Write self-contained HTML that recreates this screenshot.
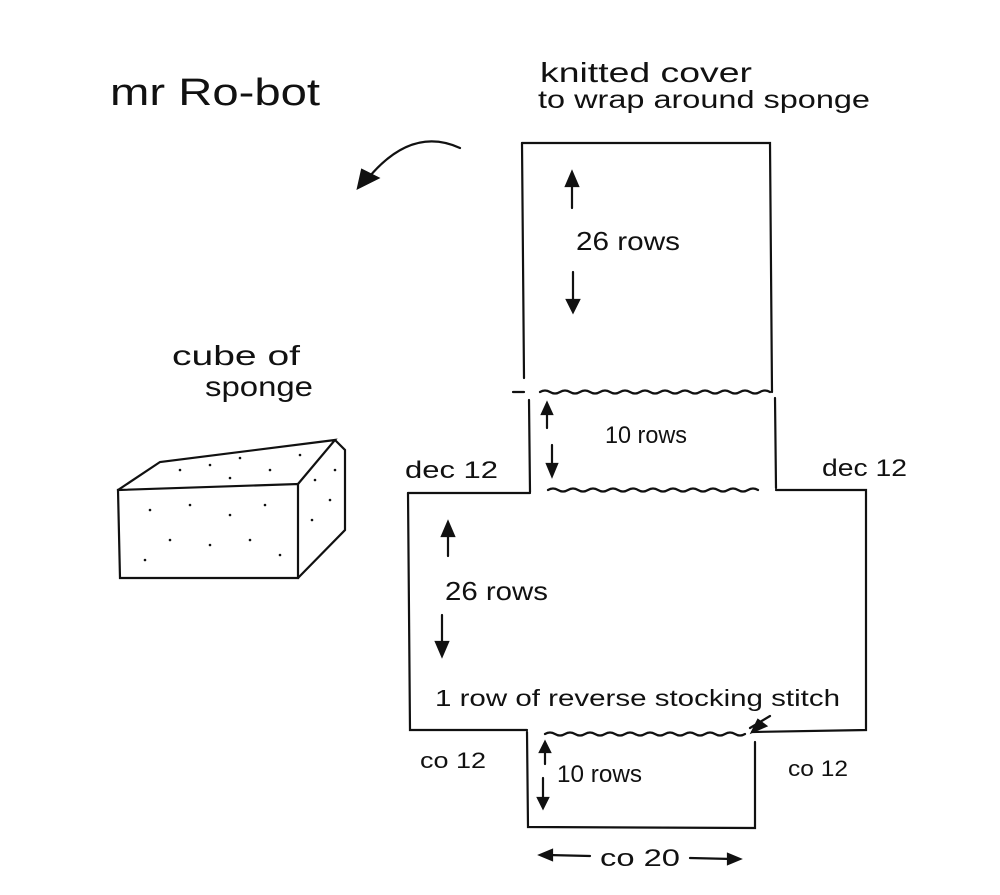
<!DOCTYPE html>
<html><head><meta charset="utf-8"><style>
html,body{margin:0;padding:0;background:#fff}
svg{display:block}
text{font-family:"Liberation Sans",sans-serif;fill:#111}
</style></head><body>
<svg width="1000" height="895" viewBox="0 0 1000 895" xmlns="http://www.w3.org/2000/svg">
<g stroke="#111" stroke-width="2.2" fill="none" stroke-linecap="round">
<path d="M460 148 Q410 125 365 182"/>
<path d="M358 188 L362 170 L378 178 Z" fill="#111"/>
<path d="M522 143 L770 143 L772 392"/>
<path d="M522 143 L524 378"/>
<path d="M513 392 L524 392"/>
<path d="M540 392 q5 -3 10 0 t10 0 t10 0 t10 0 t10 0 t10 0 t10 0 t10 0 t10 0 t10 0 t10 0 t10 0 t10 0 t10 0 t10 0 t10 0 t10 0 t10 0 t10 0 t10 0 t10 0 t10 0 t10 0"/>
<path d="M529 400 L530 492"/>
<path d="M775 398 L776 488"/>
<path d="M548 490 q5 -3 10 0 t10 0 t10 0 t10 0 t10 0 t10 0 t10 0 t10 0 t10 0 t10 0 t10 0 t10 0 t10 0 t10 0 t10 0 t10 0 t10 0 t10 0 t10 0 t10 0 t10 0"/>
<path d="M408 493 L530 493"/>
<path d="M776 490 L866 490 L866 730 L752 732"/>
<path d="M408 493 L410 730 L527 730"/>
<path d="M545 734 q5 -3 10 0 t10 0 t10 0 t10 0 t10 0 t10 0 t10 0 t10 0 t10 0 t10 0 t10 0 t10 0 t10 0 t10 0 t10 0 t10 0 t10 0 t10 0 t10 0 t10 0"/>
<path d="M527 732 L528 827 L755 828 L755 742"/>
<path d="M572 178 L572 208"/><path d="M566 186 L572 172 L578 186 Z" fill="#111"/>
<path d="M573 272 L573 308"/><path d="M567 300 L573 312 L579 300 Z" fill="#111"/>
<path d="M547 408 L547 428"/><path d="M542 414 L547 403 L552 414 Z" fill="#111"/>
<path d="M552 445 L552 470"/><path d="M547 464 L552 476 L557 464 Z" fill="#111"/>
<path d="M448 528 L448 556"/><path d="M442 536 L448 522 L454 536 Z" fill="#111"/>
<path d="M442 615 L442 650"/><path d="M436 642 L442 656 L448 642 Z" fill="#111"/>
<path d="M545 748 L545 764"/><path d="M540 752 L545 742 L550 752 Z" fill="#111"/>
<path d="M543 778 L543 803"/><path d="M538 798 L543 808 L548 798 Z" fill="#111"/>
<path d="M750 728 L770 716"/><path d="M752 732 L766 726 L758 720 Z" fill="#111"/>
<path d="M548 855 L590 856"/><path d="M552 850 L540 855 L552 860 Z" fill="#111"/>
<path d="M690 858 L732 859"/><path d="M728 854 L740 859 L728 864 Z" fill="#111"/>
<path d="M118 490 L298 484 L298 578 L120 578 Z"/>
<path d="M118 490 L160 462 L335 440 L298 484"/>
<path d="M335 440 L345 450 L345 530 L298 578"/>
</g>
<g fill="#111">
<circle cx="180" cy="470" r="1.3"/><circle cx="210" cy="465" r="1.3"/><circle cx="240" cy="458" r="1.3"/><circle cx="270" cy="470" r="1.3"/><circle cx="300" cy="455" r="1.3"/><circle cx="230" cy="478" r="1.3"/>
<circle cx="150" cy="510" r="1.3"/><circle cx="190" cy="505" r="1.3"/><circle cx="230" cy="515" r="1.3"/><circle cx="265" cy="505" r="1.3"/><circle cx="170" cy="540" r="1.3"/><circle cx="210" cy="545" r="1.3"/><circle cx="250" cy="540" r="1.3"/><circle cx="280" cy="555" r="1.3"/><circle cx="145" cy="560" r="1.3"/>
<circle cx="315" cy="480" r="1.3"/><circle cx="330" cy="500" r="1.3"/><circle cx="312" cy="520" r="1.3"/><circle cx="335" cy="470" r="1.3"/>
</g>
<text x="110" y="105" font-size="38" textLength="210" lengthAdjust="spacingAndGlyphs">mr  Ro-bot</text>
<text x="540" y="82" font-size="28" textLength="212" lengthAdjust="spacingAndGlyphs">knitted cover</text>
<text x="538" y="108" font-size="25" textLength="332" lengthAdjust="spacingAndGlyphs">to wrap around sponge</text>
<text x="172" y="365" font-size="28" textLength="128" lengthAdjust="spacingAndGlyphs">cube of</text>
<text x="205" y="396" font-size="28" textLength="108" lengthAdjust="spacingAndGlyphs">sponge</text>
<text x="576" y="250" font-size="26" textLength="104" lengthAdjust="spacingAndGlyphs">26 rows</text>
<text x="605" y="443" font-size="24" textLength="82" lengthAdjust="spacingAndGlyphs">10 rows</text>
<text x="405" y="478" font-size="24" textLength="93" lengthAdjust="spacingAndGlyphs">dec 12</text>
<text x="822" y="476" font-size="24" textLength="85" lengthAdjust="spacingAndGlyphs">dec 12</text>
<text x="445" y="600" font-size="26" textLength="103" lengthAdjust="spacingAndGlyphs">26 rows</text>
<text x="435" y="706" font-size="23" textLength="405" lengthAdjust="spacingAndGlyphs">1 row of reverse stocking stitch</text>
<text x="420" y="768" font-size="22" textLength="66" lengthAdjust="spacingAndGlyphs">co 12</text>
<text x="788" y="776" font-size="22" textLength="60" lengthAdjust="spacingAndGlyphs">co 12</text>
<text x="557" y="782" font-size="24" textLength="85" lengthAdjust="spacingAndGlyphs">10 rows</text>
<text x="600" y="866" font-size="24" textLength="80" lengthAdjust="spacingAndGlyphs">co 20</text>
</svg>
</body></html>
